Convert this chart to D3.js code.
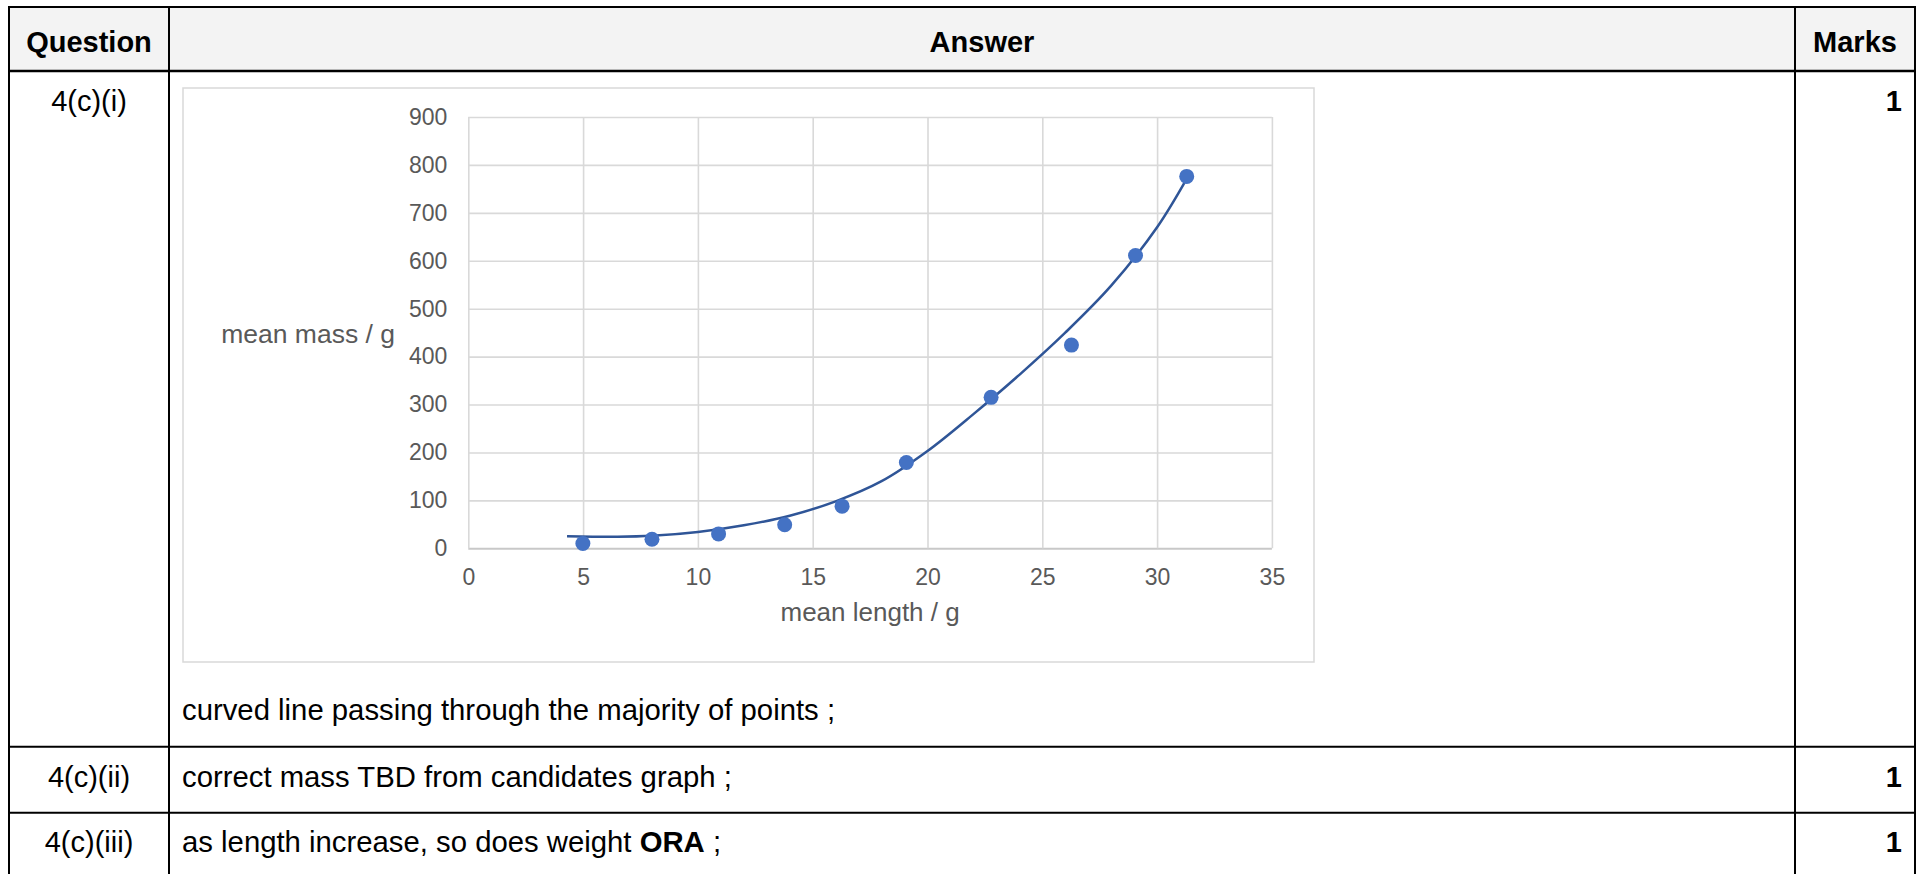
<!DOCTYPE html>
<html>
<head>
<meta charset="utf-8">
<script src="https://cdn.jsdelivr.net/npm/d3@7"></script>
<style>
  html, body { margin: 0; padding: 0; background: #ffffff; }
  svg { display: block; }
</style>
</head>
<body>
<svg id="page" width="1922" height="874"></svg>
<script>
// ---------- data ----------
const xTicks = [0, 5, 10, 15, 20, 25, 30, 35];
const yTicks = [0, 100, 200, 300, 400, 500, 600, 700, 800, 900];
const meanLength = [4.99, 8.0, 10.9, 13.78, 16.28, 19.08, 22.77, 26.27, 29.06, 31.29];
const meanMass   = [10, 19, 30, 49, 88, 179, 315, 424, 611, 776];
// trendline
const trendLength = [4.3, 6.5, 8, 10, 12, 14, 16, 18, 20, 22, 24, 26, 28, 30, 31.3];
const trendMass   = [25, 24, 26, 34, 48, 68, 98, 140, 203, 280, 362, 450, 548, 670, 772];

const xTitle = "mean length / g";
const yTitle = "mean mass / g";

const headers = ["Question", "Answer", "Marks"];
const questions = ["4(c)(i)", "4(c)(ii)", "4(c)(iii)"];
const answers = [
  [{t: "curved line passing through the majority of points ;", b: false}],
  [{t: "correct mass TBD from candidates graph ;", b: false}],
  [{t: "as length increase, so does weight ", b: false}, {t: "ORA", b: true}, {t: " ;", b: false}]
];
const marks = ["1", "1", "1"];

// ---------- layout ----------
const svg = d3.select("#page");
const FONT = "'Liberation Sans', Arial, Helvetica, sans-serif";

const colX = [9, 169, 1795, 1915];
const rowY = [7, 71, 746.7, 812.7];
const bottomY = 874;

// header background
svg.append("rect")
  .attr("x", colX[0]).attr("y", rowY[0])
  .attr("width", colX[3] - colX[0]).attr("height", rowY[1] - rowY[0])
  .attr("fill", "#f3f3f3");

// ---------- chart ----------
const box = {x0: 183, y0: 88, x1: 1314, y1: 662};
svg.append("rect")
  .attr("x", box.x0).attr("y", box.y0)
  .attr("width", box.x1 - box.x0).attr("height", box.y1 - box.y0)
  .attr("fill", "#ffffff").attr("stroke", "#d9d9d9").attr("stroke-width", 1.5);

const x = d3.scaleLinear().domain([0, 35]).range([468.3, 1271.9]);
const y = d3.scaleLinear().domain([0, 900]).range([548.3, 117]);
const plotW = x(35) - x(0);
const plotH = y(0) - y(900);

const gy = svg.append("g").attr("transform", `translate(${x(0)},0)`)
  .call(d3.axisLeft(y).tickValues(yTicks).tickSize(-plotW).tickPadding(21).tickFormat(d3.format("d")));
const gx = svg.append("g").attr("transform", `translate(0,${y(0)})`)
  .call(d3.axisBottom(x).tickValues(xTicks).tickSize(-plotH).tickPadding(20.5).tickFormat(d3.format("d")));

[gy, gx].forEach(g => {
  g.select(".domain").remove();
  g.selectAll(".tick line").attr("stroke", "#d9d9d9").attr("stroke-width", 1.6);
  g.selectAll(".tick text")
    .attr("fill", "#595959")
    .style("font-family", FONT)
    .style("font-size", "23px");
});
gy.selectAll(".tick line").filter(d => d === 0).attr("stroke", "#c8c8c8").attr("stroke-width", 2);

// axis titles
svg.append("text")
  .attr("x", (x(0) + x(35)) / 2).attr("y", 621)
  .attr("text-anchor", "middle")
  .attr("fill", "#595959")
  .style("font-family", FONT).style("font-size", "26px")
  .text(xTitle);
svg.append("text")
  .attr("x", 395).attr("y", 343)
  .attr("text-anchor", "end")
  .attr("fill", "#595959")
  .style("font-family", FONT).style("font-size", "26.5px")
  .text(yTitle);

// trendline
const trend = trendLength.map((v, i) => [v, trendMass[i]]);
svg.append("path")
  .datum(trend)
  .attr("fill", "none")
  .attr("stroke", "#2f5597")
  .attr("stroke-width", 2.5)
  .attr("d", d3.line().x(d => x(d[0])).y(d => y(d[1])).curve(d3.curveCatmullRom.alpha(0.5)));

// points
const pts = meanLength.map((v, i) => [v, meanMass[i]]);
svg.append("g").selectAll("circle")
  .data(pts).join("circle")
  .attr("cx", d => x(d[0])).attr("cy", d => y(d[1]))
  .attr("r", 7.5)
  .attr("fill", "#4472c4");

// ---------- table lines ----------
const lines = svg.append("g").attr("stroke", "#000").attr("stroke-width", 2);
rowY.forEach((yy, i) => {
  lines.append("line").attr("x1", colX[0] - 1).attr("x2", colX[3] + 1)
    .attr("y1", yy).attr("y2", yy)
    .attr("stroke-width", i === 1 ? 2.5 : 2);
});
colX.forEach(xx => {
  lines.append("line").attr("x1", xx).attr("x2", xx)
    .attr("y1", rowY[0]).attr("y2", bottomY);
});

// ---------- table text ----------
const textG = svg.append("g").style("font-family", FONT).style("font-size", "29px").attr("fill", "#000");
const colCenters = [(colX[0] + colX[1]) / 2, (colX[1] + colX[2]) / 2, (colX[2] + colX[3]) / 2];
headers.forEach((h, i) => {
  textG.append("text").attr("x", colCenters[i]).attr("y", 52)
    .attr("text-anchor", "middle").attr("font-weight", "bold").text(h);
});

const rowBase = [111, 787, 852];
questions.forEach((q, i) => {
  textG.append("text").attr("x", colCenters[0]).attr("y", rowBase[i])
    .attr("text-anchor", "middle").text(q);
  textG.append("text").attr("x", 1902).attr("y", rowBase[i])
    .attr("text-anchor", "end").attr("font-weight", "bold").text(marks[i]);
});

const answerBase = [720, 787, 852];
answers.forEach((parts, i) => {
  const t = textG.append("text").attr("x", 182).attr("y", answerBase[i])
    .attr("xml:space", "preserve").style("font-size", "29.3px");
  parts.forEach(p => {
    t.append("tspan").attr("font-weight", p.b ? "bold" : "normal").text(p.t);
  });
});
</script>
</body>
</html>
